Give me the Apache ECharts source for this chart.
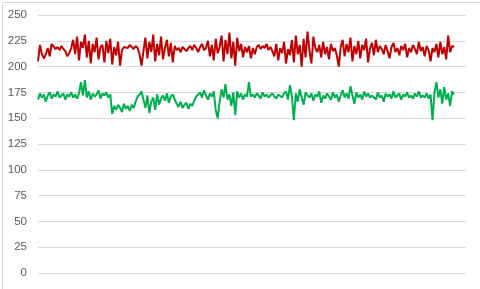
<!DOCTYPE html>
<html><head><meta charset="utf-8">
<script src="https://cdn.jsdelivr.net/npm/echarts@6/dist/echarts.min.js"></script>
<style>html,body{margin:0;padding:0;background:#fff}#c{width:480px;height:289px}</style>
</head><body><div id="c"></div>
<script>
const yTicks = [0,25,50,75,100,125,150,175,200,225,250];
const redSeries = [205,221,212,208,
212,218,210,222,223,217,
219,216,220,217,215,
210,213,218,
226,212,229,206,224,218,231,209,225,203,222,214,228,207,219,
221,204,225,213,227,202,219,211,224,
201,
216,219,220,218,221,219,217,220,218,
212,201,215,
228,208,224,214,231,205,222,211,229,207,218,226,210,223,204,220,
216,218,214,219,217,215,218,
220,216,221,218,214,219,222,216,218,
225,210,221,206,227,213,219,
230,205,226,212,233,208,224,201,228,215,222,209,219,
214,220,208,218,212,
219,221,217,220,218,222,216,219,215,
210,222,206,218,213,224,203,217,211,
226,204,230,212,221,200,227,209,234,215,203,229,218,
214,221,209,224,212,219,207,222,215,218,211,
200,
219,226,210,222,214,228,205,220,212,225,208,221,216,227,204,218,223,211,226,214,220,
217,212,221,215,208,219,223,214,218,211,220,216,222,209,218,214,221,217,212,224,215,219,210,220,216,
205,
218,214,222,209,224,212,219,207,
230,
214,220,219];
const greenSeries = [168,174,170,173,166,172,175,169,173,171,176,170,172,174,168,173,171,175,170,173,169,174,
185,172,187,
170,176,168,174,171,173,177,169,174,172,175,170,173,
154,
162,158,163,160,156,164,159,162,157,163,160,
166,171,173,
176,
168,160,172,155,166,170,158,173,163,169,
172,167,174,165,171,173,174,
164,161,166,160,163,165,159,164,162,
167,171,173,
175,170,177,172,168,174,171,176,
158,150,166,
178,170,183,168,173,162,175,153,
176,170,174,168,173,171,
185,
171,173,170,174,172,169,175,171,173,170,172,174,171,169,173,172,170,174,
176,168,182,171,148,174,166,178,170,163,175,172,
170,174,167,173,171,176,165,172,169,174,171,168,175,170,173,166,172,177,170,174,169,181,172,164,175,170,173,168,176,171,174,170,172,
173,168,175,170,172,166,174,171,173,169,176,170,172,174,168,173,171,175,170,172,169,174,171,176,170,172,170,174,169,173,
148,
175,
185,
170,178,164,180,168,174,162,176,173];

const n = Math.max(redSeries.length, greenSeries.length);
const toPairs = a => a.map((v,i)=>[i,v]);
const chart = echarts.init(document.getElementById('c'), null, {renderer:'canvas'});
chart.setOption({
  animation:false,
  graphic:[{type:'rect',left:0,top:0,shape:{x:0.5,y:0.5,width:479,height:288},style:{fill:'none',stroke:'#D9D9D9',lineWidth:1},silent:true}],
  grid:{left:38,right:14,top:15,bottom:16},
  xAxis:{type:'value',min:0,max:(n-1)*428/416,axisLine:{show:false},axisTick:{show:false},axisLabel:{show:false},splitLine:{show:false}},
  yAxis:{type:'value',min:yTicks[0],max:yTicks[yTicks.length-1],interval:25,
    axisLine:{show:false},axisTick:{show:false},
    axisLabel:{color:'#595959',fontSize:11.5,fontFamily:'Liberation Sans, Arial, sans-serif',margin:11},
    splitLine:{lineStyle:{color:'#D9D9D9',width:1}}},
  series:[
    {type:'line',data:toPairs(redSeries),showSymbol:false,lineStyle:{color:'#C00000',width:2},itemStyle:{color:'#C00000'}},
    {type:'line',data:toPairs(greenSeries),showSymbol:false,lineStyle:{color:'#00B050',width:2},itemStyle:{color:'#00B050'}}
  ]
});
</script></body></html>
